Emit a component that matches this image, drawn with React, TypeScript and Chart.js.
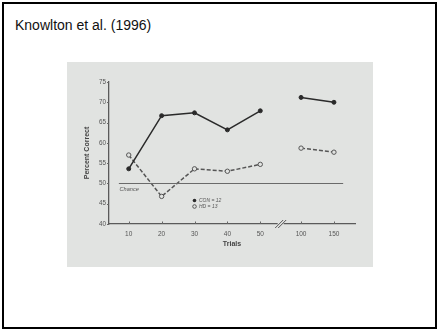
import React, { useEffect, useRef } from "react";
import { Chart, registerables } from "chart.js";

Chart.register(...registerables);

const trials = [10, 20, 30, 40, 50, 100, 150];
const xTickLabels = ["10", "20", "30", "40", "50", "100", "150"];
const conValues = [53.6, 66.7, 67.4, 63.2, 67.9, 71.2, 70.0];
const hdValues = [57.0, 46.8, 53.6, 53.0, 54.7, 58.7, 57.7];
const yTicks = [40, 45, 50, 55, 60, 65, 70, 75];
const chanceLevel = 50;
const legendLabels = ["CON = 12", "HD = 13"];

// broken x axis: 10..50 evenly spaced, then a gap, then 100, 150
const BREAK_GAP = 1.24;
function trialToPos(t: number): number {
  return t <= 50 ? t / 10 : 5 + BREAK_GAP + (t - 100) / 50;
}
const breakPos = 5 + BREAK_GAP / 2;

function buildSeries(values: number[]) {
  const pts: { x: number; y: number | null }[] = [];
  trials.forEach((t, i) => {
    if (t > 50 && trials[i - 1] <= 50) pts.push({ x: breakPos, y: null });
    pts.push({ x: trialToPos(t), y: values[i] });
  });
  return pts;
}

const PANEL = "#e1e3e1";
const INK = "#2a2a2a";
const GREY = "#555";

const decorPlugin = {
  id: "decor",
  afterDraw(chart: any) {
    const ctx = chart.ctx;
    const xs = chart.scales.x;
    const ys = chart.scales.y;
    const ca = chart.chartArea;
    ctx.save();
    // x tick marks (inside)
    ctx.strokeStyle = "#666";
    ctx.lineWidth = 1;
    trials.forEach((t) => {
      const px = Math.round(xs.getPixelForValue(trialToPos(t))) + 0.5;
      ctx.beginPath();
      ctx.moveTo(px, ca.bottom);
      ctx.lineTo(px, ca.bottom - 2.5);
      ctx.stroke();
    });
    // y tick marks (outside)
    yTicks.forEach((v) => {
      const py = Math.round(ys.getPixelForValue(v)) + 0.5;
      ctx.beginPath();
      ctx.moveTo(ca.left, py);
      ctx.lineTo(ca.left - 2, py);
      ctx.stroke();
    });
    // chance line
    const cy = Math.round(ys.getPixelForValue(chanceLevel)) + 0.5;
    ctx.strokeStyle = "#6a6a6a";
    ctx.lineWidth = 1.1;
    ctx.beginPath();
    ctx.moveTo(xs.getPixelForValue(0.7), cy);
    ctx.lineTo(xs.getPixelForValue(7.52), cy);
    ctx.stroke();
    ctx.fillStyle = "#555";
    ctx.font = "italic 5.6px 'Liberation Sans', Arial, sans-serif";
    ctx.textBaseline = "middle";
    ctx.textAlign = "left";
    ctx.fillText("Chance", xs.getPixelForValue(0.72), cy + 6);
    // axis break marks
    const bx = xs.getPixelForValue(breakPos);
    ctx.strokeStyle = "#555";
    ctx.lineWidth = 1;
    ctx.fillStyle = PANEL;
    ctx.fillRect(bx - 3, ca.bottom - 1.5, 6, 3);
    [-1.5, 1.5].forEach((d) => {
      ctx.beginPath();
      ctx.moveTo(bx + d - 4, ca.bottom + 4);
      ctx.lineTo(bx + d + 4, ca.bottom - 4);
      ctx.stroke();
    });
    // legend
    const lx = xs.getPixelForValue(3);
    const ly1 = ca.bottom - 23.5;
    const ly2 = ca.bottom - 17.5;
    ctx.fillStyle = INK;
    ctx.beginPath();
    ctx.arc(lx, ly1, 1.8, 0, Math.PI * 2);
    ctx.fill();
    ctx.strokeStyle = GREY;
    ctx.lineWidth = 1;
    ctx.beginPath();
    ctx.arc(lx, ly2, 1.8, 0, Math.PI * 2);
    ctx.stroke();
    ctx.fillStyle = "#555";
    ctx.font = "italic 5px 'Liberation Sans', Arial, sans-serif";
    ctx.fillText(legendLabels[0], lx + 4.5, ly1);
    ctx.fillText(legendLabels[1], lx + 4.5, ly2);
    ctx.restore();
  },
};

export default function App() {
  const ref = useRef<HTMLCanvasElement | null>(null);

  useEffect(() => {
    if (!ref.current) return;
    const chart = new Chart(ref.current, {
      type: "line",
      data: {
        datasets: [
          {
            label: legendLabels[0],
            data: buildSeries(conValues),
            borderColor: INK,
            backgroundColor: INK,
            borderWidth: 1.5,
            pointRadius: 2,
            pointBackgroundColor: INK,
            pointBorderColor: INK,
            pointBorderWidth: 1,
            spanGaps: false,
            tension: 0,
          },
          {
            label: legendLabels[1],
            data: buildSeries(hdValues),
            borderColor: GREY,
            backgroundColor: PANEL,
            borderWidth: 1.5,
            borderDash: [4, 2],
            pointRadius: 2.2,
            pointBackgroundColor: PANEL,
            pointBorderColor: GREY,
            pointBorderWidth: 1,
            spanGaps: false,
            tension: 0,
          },
        ],
      },
      options: {
        animation: false,
        responsive: false,
        devicePixelRatio: 1,
        layout: { padding: { top: 20, right: 18, left: 0, bottom: 0 } },
        plugins: { legend: { display: false }, tooltip: { enabled: false }, title: { display: false } },
        scales: {
          x: {
            type: "linear",
            min: 0.4,
            max: 7.88,
            grid: { display: false, drawTicks: false },
            border: { display: true, color: "#5a5a5a", width: 1.3 },
            afterFit: (s: any) => {
              s.height = 43;
            },
            afterBuildTicks: (s: any) => {
              s.ticks = trials.map((t) => ({ value: trialToPos(t) }));
            },
            ticks: {
              autoSkip: false,
              maxRotation: 0,
              padding: 6,
              color: "#555",
              font: { size: 6.5, family: "'Liberation Sans', Arial, sans-serif" },
              callback: (v: any) => {
                const i = trials.findIndex((t) => Math.abs(trialToPos(t) - v) < 1e-6);
                return i >= 0 ? xTickLabels[i] : "";
              },
            },
            title: {
              display: true,
              text: "Trials",
              color: "#444",
              font: { size: 7, weight: "bold", family: "'Liberation Sans', Arial, sans-serif" },
              padding: { top: 0, bottom: 19 },
            },
          },
          y: {
            min: 40,
            max: 75,
            grid: { display: false, drawTicks: false },
            border: { display: true, color: "#5a5a5a", width: 1.3 },
            afterFit: (s: any) => {
              s.width = 42;
            },
            afterBuildTicks: (s: any) => {
              s.ticks = yTicks.map((v) => ({ value: v }));
            },
            ticks: {
              padding: 3,
              color: "#555",
              font: { size: 6.3, family: "'Liberation Sans', Arial, sans-serif" },
            },
            title: {
              display: true,
              text: "Percent Correct",
              color: "#444",
              font: { size: 7, weight: "bold", family: "'Liberation Sans', Arial, sans-serif" },
              padding: { top: 16, bottom: 0 },
            },
          },
        },
      },
      plugins: [decorPlugin],
    });
    return () => chart.destroy();
  }, []);

  return (
    <div style={{ position: "fixed", left: 0, top: 0, width: 437, height: 329, background: "#fff" }}>
      <div
        style={{
          position: "absolute",
          left: 2,
          top: 2,
          width: 435,
          height: 327,
          boxSizing: "border-box",
          border: "2px solid #000",
        }}
      />
      <div
        style={{
          position: "absolute",
          left: 15,
          top: 17,
          font: "14px 'Liberation Sans', Arial, sans-serif",
          lineHeight: "16px",
          color: "#111",
          whiteSpace: "nowrap",
        }}
      >
        Knowlton et al. (1996)
      </div>
      <div style={{ position: "absolute", left: 67, top: 62, width: 306, height: 205, background: PANEL }}>
        <canvas ref={ref} width={306} height={205} style={{ display: "block", width: 306, height: 205 }} />
      </div>
    </div>
  );
}
